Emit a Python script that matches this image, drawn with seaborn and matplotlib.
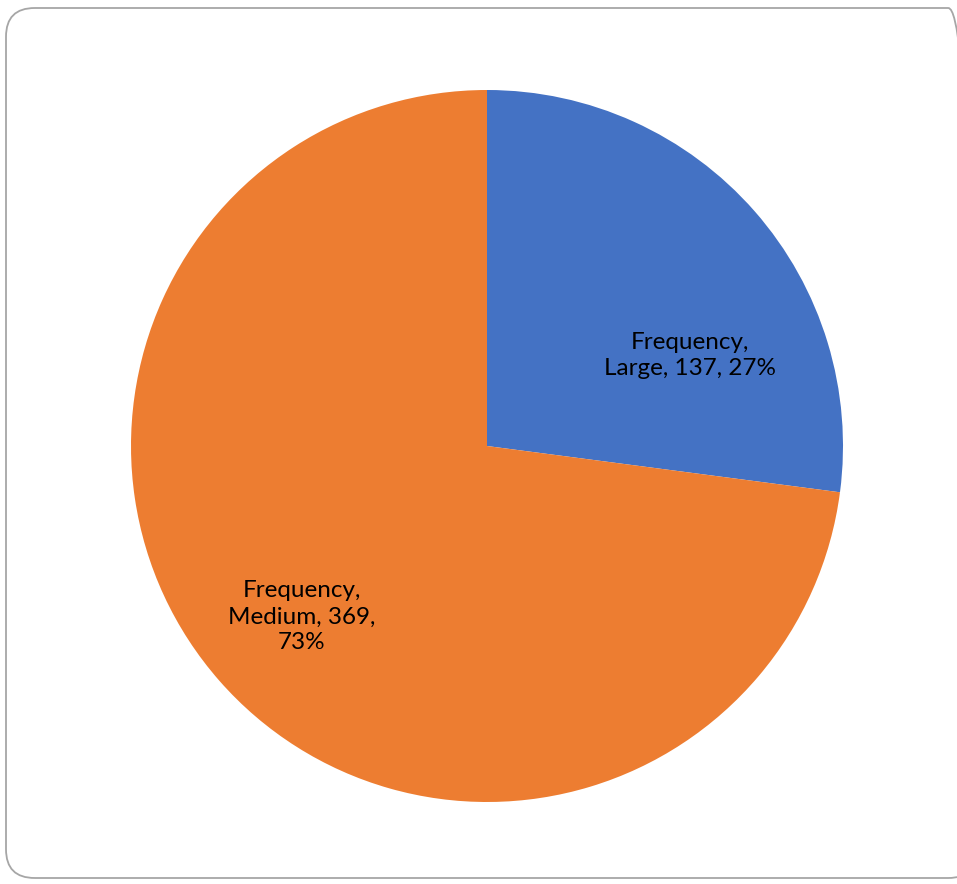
import matplotlib
matplotlib.use("Agg")
import matplotlib.pyplot as plt
import seaborn as sns
from matplotlib.patches import FancyBboxPatch

sns.set_theme(style="white")
plt.rcParams['font.family'] = ['Lato', 'DejaVu Sans']

categories = ["Large", "Medium"]
values = [137, 369]
series_name = "Frequency"
colors = ["#4472C4", "#ED7D31"]

W, H = 957, 884
fig = plt.figure(figsize=(W / 100, H / 100), dpi=100)

# rounded frame
frame = FancyBboxPatch((6 / W, 6 / H), (W + 20 - 6) / W, (882 - 6 - 6) / H,
                       boxstyle="round,pad=0,rounding_size=0.03",
                       transform=fig.transFigure, facecolor="none",
                       edgecolor="#A6A6A6", linewidth=1.3, mutation_aspect=W / H,
                       zorder=-1)
fig.patches.append(frame)

cx, cy, r = 487, 446, 356
ax = fig.add_axes([(cx - r) / W, (H - cy - r) / H, 2 * r / W, 2 * r / H])
ax.set_facecolor("none")
wedges, _ = ax.pie(values, colors=colors, startangle=90, counterclock=False,
                   radius=1.0, wedgeprops=dict(linewidth=0))
ax.set_xlim(-1, 1)
ax.set_ylim(-1, 1)
ax.set_aspect("equal")
ax.axis("off")

total = sum(values)
pcts = [round(v / total * 100) for v in values]
label_texts = [
    f"{series_name},\n{categories[0]}, {values[0]}, {pcts[0]}%",
    f"{series_name},\n{categories[1]}, {values[1]},\n{pcts[1]}%",
]
label_pos = [(0.57, 0.255), (-0.52, -0.48)]
for t, (x, y) in zip(label_texts, label_pos):
    ax.text(x, y, t, ha="center", va="center", fontsize=17.5, color="black",
            linespacing=1.3)

fig.savefig("out.png", dpi=100)
